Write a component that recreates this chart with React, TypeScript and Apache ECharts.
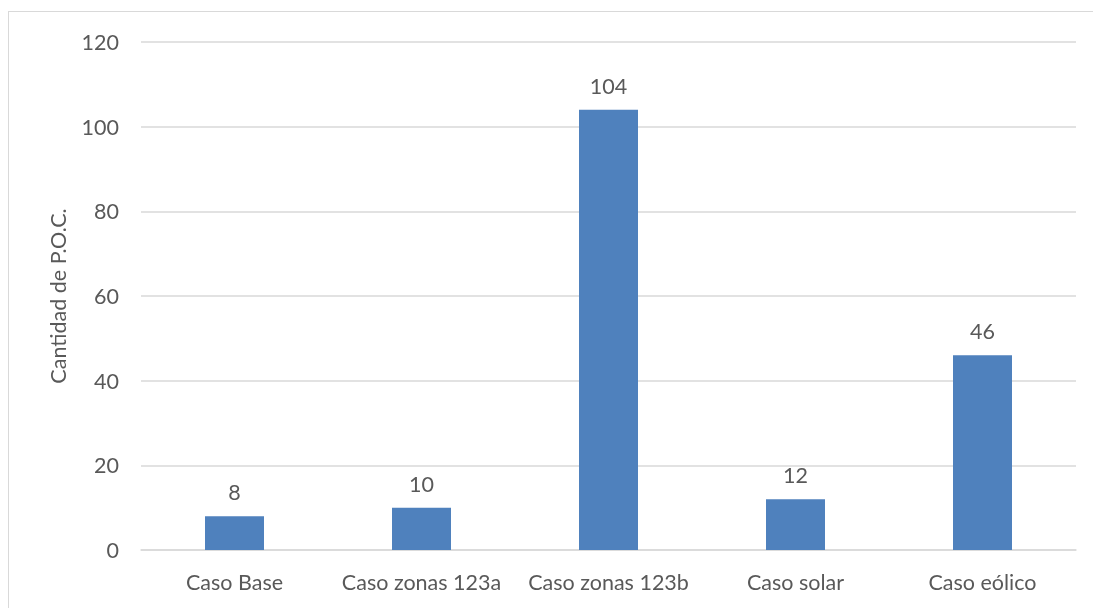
import React, { useEffect, useRef } from "react";
import * as echarts from "echarts";

const categories = ["Caso Base", "Caso zonas 123a", "Caso zonas 123b", "Caso solar", "Caso eólico"];
const pocCounts = [8, 10, 104, 12, 46];
const yTicks = { min: 0, max: 120, interval: 20 };

const FONT = "Lato, 'Open Sans', sans-serif";
const TEXT = "#595959";
const SIZE = 21.5;

export default function App() {
  const ref = useRef<HTMLDivElement>(null);

  useEffect(() => {
    if (!ref.current) return;
    const chart = echarts.init(ref.current, undefined, { renderer: "svg" });
    chart.setOption({
      animation: false,
      grid: { left: 141, right: 17, top: 42, bottom: 58 },
      xAxis: {
        type: "category",
        data: categories,
        axisLine: { lineStyle: { color: "#d9d9d9", width: 1.5 } },
        axisTick: { show: false },
        axisLabel: {
          interval: 0,
          hideOverlap: false,
          color: TEXT,
          fontSize: SIZE,
          fontFamily: FONT,
          margin: 21,
        },
      },
      yAxis: {
        type: "value",
        min: yTicks.min,
        max: yTicks.max,
        interval: yTicks.interval,
        name: "Cantidad de P.O.C.",
        nameLocation: "middle",
        nameGap: 72,
        nameTextStyle: { color: TEXT, fontSize: SIZE, fontFamily: FONT },
        axisLine: { show: false },
        axisTick: { show: false },
        axisLabel: { color: TEXT, fontSize: SIZE, fontFamily: FONT, margin: 22 },
        splitLine: { lineStyle: { color: "#d9d9d9", width: 1.5 } },
      },
      series: [
        {
          type: "bar",
          data: pocCounts,
          barWidth: 59,
          itemStyle: { color: "#4f81bd" },
          label: {
            show: true,
            position: "top",
            distance: 13,
            color: TEXT,
            fontSize: SIZE,
            fontFamily: FONT,
          },
        },
      ],
    });
    return () => chart.dispose();
  }, []);

  return (
    <>
      <div
        style={{
          position: "fixed",
          left: 8,
          top: 11,
          width: 1200,
          height: 700,
          border: "1.5px solid #d9d9d9",
          boxSizing: "border-box",
        }}
      />
      <div ref={ref} style={{ position: "fixed", left: 0, top: 0, width: 1093, height: 608 }} />
    </>
  );
}
